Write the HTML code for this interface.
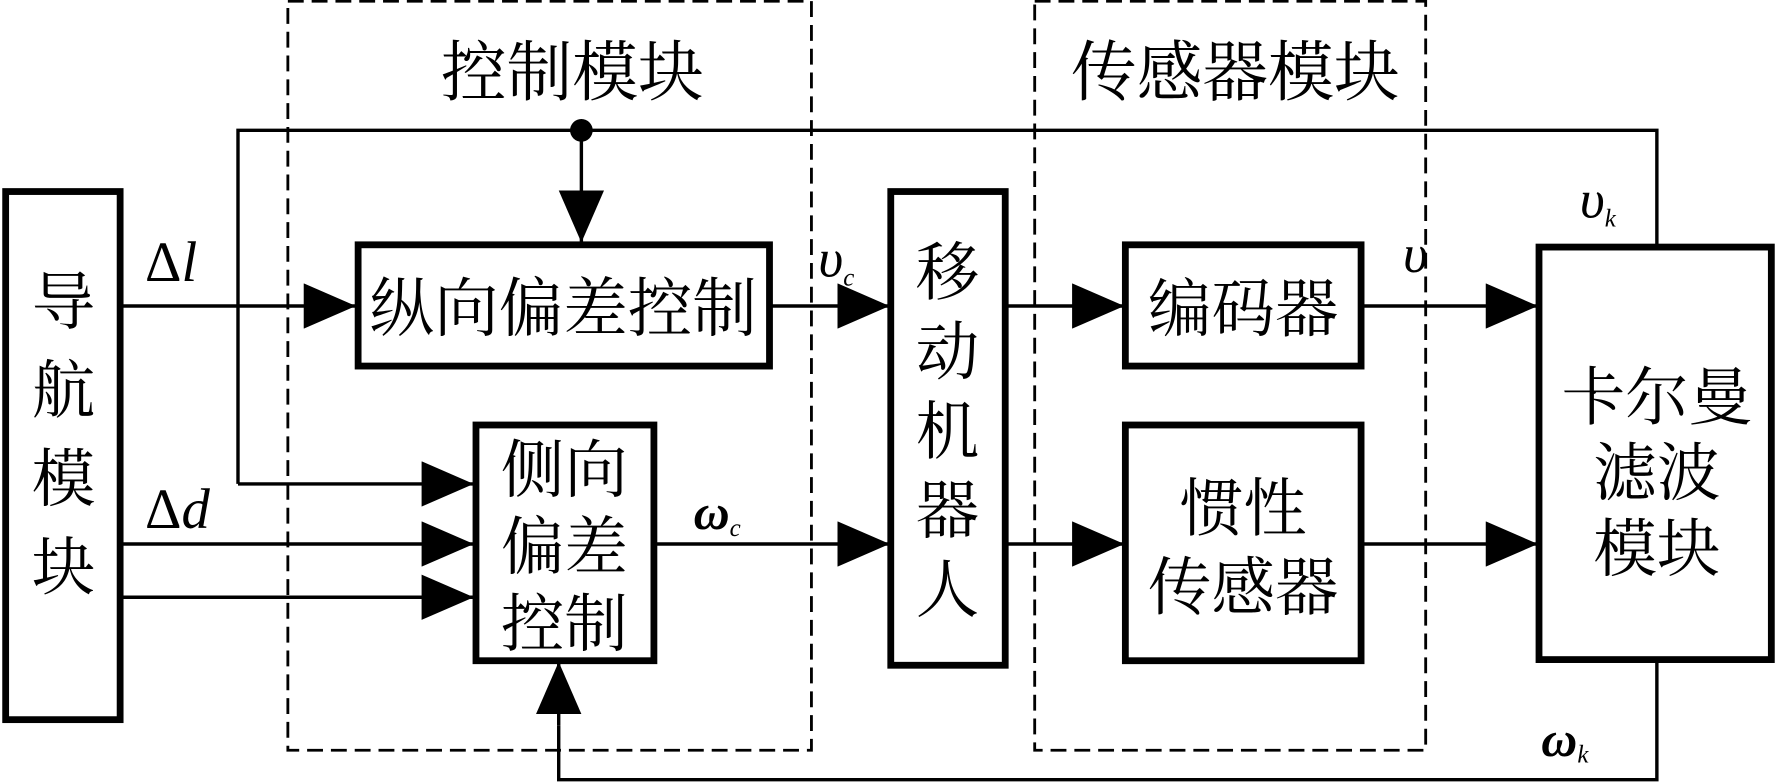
<!DOCTYPE html>
<html><head><meta charset="utf-8"><style>
html,body{margin:0;padding:0;background:#fff;}
svg{display:block}
text{font-family:"Liberation Serif","Noto Serif CJK SC",serif;fill:#000}
.c{font-size:56px;text-anchor:middle}
.m{font-family:"Liberation Serif",serif;font-style:italic}
</style></head><body>
<svg width="1777" height="782" viewBox="0 0 1568 690" xmlns="http://www.w3.org/2000/svg">
<defs>
<marker id="a" markerWidth="46" markerHeight="40" refX="46" refY="20" markerUnits="userSpaceOnUse" orient="auto">
<path d="M0,0 L46,20 L0,40 Z" fill="#000"/></marker>
</defs>
<g fill="none" stroke="#000" stroke-width="2.5" stroke-dasharray="14,7">
<rect x="254" y="1" width="462" height="661"/>
<rect x="913" y="1" width="345" height="661"/>
</g>
<text class="c" x="505" y="84" style="font-size:58px">控制模块</text>
<text class="c" x="1090" y="84" style="font-size:58px">传感器模块</text>
<g fill="none" stroke="#000" stroke-width="3">
<polyline points="1462,218 1462,115 210,115 210,427"/>
<line x1="210" y1="427" x2="418" y2="427" marker-end="url(#a)"/>
<line x1="513" y1="115" x2="513" y2="214" marker-end="url(#a)"/>
<line x1="107" y1="270" x2="314" y2="270" marker-end="url(#a)"/>
<line x1="107" y1="480" x2="418" y2="480" marker-end="url(#a)"/>
<line x1="107" y1="527" x2="418" y2="527" marker-end="url(#a)"/>
<line x1="680" y1="270" x2="785" y2="270" marker-end="url(#a)"/>
<line x1="578" y1="480" x2="785" y2="480" marker-end="url(#a)"/>
<line x1="888" y1="270" x2="992" y2="270" marker-end="url(#a)"/>
<line x1="888" y1="480" x2="992" y2="480" marker-end="url(#a)"/>
<line x1="1202" y1="270" x2="1357" y2="270" marker-end="url(#a)"/>
<line x1="1202" y1="480" x2="1357" y2="480" marker-end="url(#a)"/>
<polyline points="1462,583 1462,688 493,688 493,640"/>
<line x1="493" y1="640" x2="493" y2="584" marker-end="url(#a)"/>
</g>
<circle cx="513" cy="115" r="10" fill="#000"/>
<g fill="#fff" stroke="#000" stroke-width="6">
<rect x="5" y="169" width="101" height="466"/>
<rect x="316" y="216" width="363" height="107"/>
<rect x="420" y="375" width="157" height="208"/>
<rect x="786" y="169" width="101" height="418"/>
<rect x="993" y="216" width="208" height="107"/>
<rect x="993" y="375" width="208" height="208"/>
<rect x="1358" y="218" width="205" height="364"/>
</g>
<text class="c" x="56" y="286">导</text>
<text class="c" x="56" y="364">航</text>
<text class="c" x="56" y="442">模</text>
<text class="c" x="56" y="520">块</text>
<text class="c" x="497" y="292" style="font-size:57px">纵向偏差控制</text>
<text class="c" x="498" y="434">侧向</text>
<text class="c" x="498" y="502">偏差</text>
<text class="c" x="498" y="570">控制</text>
<text class="c" x="836" y="260">移</text>
<text class="c" x="836" y="330">动</text>
<text class="c" x="836" y="400">机</text>
<text class="c" x="836" y="470">器</text>
<text class="c" x="836" y="540">人</text>
<text class="c" x="1097" y="292">编码器</text>
<text class="c" x="1097" y="468">惯性</text>
<text class="c" x="1097" y="538">传感器</text>
<text class="c" x="1462" y="370">卡尔曼</text>
<text class="c" x="1462" y="437">滤波</text>
<text class="c" x="1462" y="504">模块</text>
<text x="128" y="248" style="font-size:50px">Δ<tspan class="m">l</tspan></text>
<text x="128" y="466" style="font-size:50px">Δ<tspan class="m">d</tspan></text>
<text class="m" x="722" y="244" style="font-size:48px">υ<tspan style="font-size:22px" dy="8">c</tspan></text>
<text x="612" y="467" style="font-size:44px;font-style:italic;font-weight:bold">ω<tspan style="font-size:22px;font-weight:normal" dy="6">c</tspan></text>
<text class="m" x="1238" y="240" style="font-size:48px">υ</text>
<text class="m" x="1394" y="192" style="font-size:48px">υ<tspan style="font-size:22px" dy="8">k</tspan></text>
<text x="1360" y="667" style="font-size:44px;font-style:italic;font-weight:bold">ω<tspan style="font-size:22px;font-weight:normal" dy="6">k</tspan></text>
</svg>
</body></html>
